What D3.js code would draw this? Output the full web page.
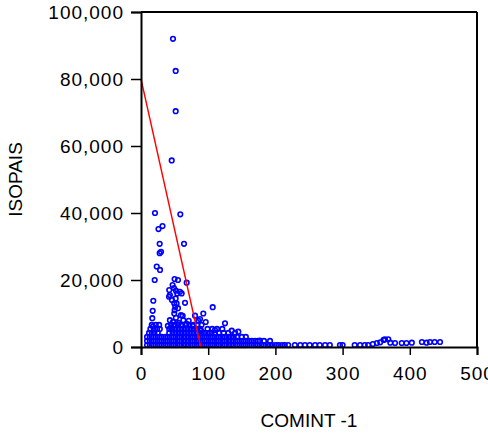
<!DOCTYPE html>
<html>
<head>
<meta charset="utf-8">
<script src="https://cdn.jsdelivr.net/npm/d3@7"></script>
<style>
  body { margin: 0; background: #fff; }
  text { font-family: "Liberation Sans", Arial, sans-serif; fill: #000; }
</style>
</head>
<body>
<div id="chart"></div>
<script>
// axis setup
const xTicks = [0, 100, 200, 300, 400, 500];
const yTicks = [0, 20000, 40000, 60000, 80000, 100000];
const xTitle = "COMINT -1";
const yTitle = "ISOPAIS";

// regression line (start / end)
const fitX = [0, 89];
const fitY = [80000, 0];

// isolated high values
const peakPoints = [
  [47.6, 92000], [51.6, 82400], [51.6, 70400], [45.7, 55700],
  [20.8, 40000], [58.5, 39600], [26, 35200], [32, 36100],
  [27.8, 30800], [64, 30800], [29.8, 28400], [27.8, 28000],
  [23.4, 24000], [28.3, 23000], [20.4, 20000]
];

// the column of points between x 40 and 70
const towerPoints = [
  [50, 20300], [55, 20000], [68, 19200], [47, 18500], [49, 17600],
  [52, 16800], [54, 16000], [58, 16500], [60.5, 16000], [42, 17000],
  [43, 15500], [41.7, 15000], [51.6, 14500], [49.5, 13000], [53, 13000],
  [51, 12000], [50, 11000], [49.5, 10000], [65.5, 13200], [59.5, 9500],
  [63, 8000], [62, 9300], [55, 11600], [46, 14000], [43, 8000],
  [47.6, 7500], [52, 8700], [56.5, 7200], [40, 6300], [44.6, 5700],
  [71, 7800], [68, 6900], [77, 6300],
  [18.3, 13800], [17.4, 10800], [16.8, 8600], [17.9, 6100]
];

// scattered points right of the column
const sidePoints = [
  [92.7, 10000], [106.7, 11900], [85.3, 7850], [96.3, 7460], [80.4, 9340],
  [87.8, 8360], [125, 7070], [110, 5070], [135, 4870], [144.8, 4570],
  [89.3, 4870], [177, 1880]
];

// dense band along the bottom, one row per level
const bandRows = [
  { y: 600, xs: [9, 13, 18, 22, 27, 31, 36, 40, 45, 49, 54, 58, 63, 67, 71, 76, 80, 85, 89, 94,
                 98, 103, 107, 112, 116, 121, 125, 130, 134, 138, 143, 147, 152, 156, 161, 165,
                 170, 174, 179, 183, 188, 192, 196, 201, 205, 210, 214, 219] },
  { y: 1800, xs: [9, 13, 18, 22, 27, 31, 36, 40, 45, 49, 54, 58, 63, 67, 71, 76, 80, 85, 89, 94,
                  98, 103, 107, 112, 116, 121, 125, 130, 134, 138, 143, 147, 152, 156, 161, 165,
                  170, 174, 183, 192] },
  { y: 3000, xs: [9, 13, 18, 22, 27, 31, 36, 40, 45, 49, 54, 58, 63, 67, 71, 76, 80, 85, 89, 94,
                  98, 103, 107, 112, 116, 121, 125, 130, 134, 138, 143, 150, 156] },
  { y: 4200, xs: [12, 16, 20, 25, 42, 47, 51, 56, 60, 65, 69, 74, 78, 83, 87, 92, 96, 101, 105,
                  110, 116, 123, 130, 140] },
  { y: 5400, xs: [14, 19, 24, 28, 42, 47, 51, 56, 60, 65, 69, 74, 78, 83, 88, 99, 106, 113, 121] },
  { y: 6600, xs: [16, 22, 27, 45, 50, 55, 60, 66, 72, 78, 84, 90] }
];

// sparse tail of low values
const tailPoints = [
  [229, 600], [237, 600], [244, 600], [251, 600], [259, 600], [266, 600], [274, 600],
  [281, 600], [296, 600], [300, 600], [318, 600], [326, 600], [333, 600], [338, 600],
  [345, 900], [351, 1200], [356, 1400], [361, 2100], [363, 2300], [368, 2300],
  [371, 1300], [378, 1200], [388, 1200], [395, 1200], [403, 1300],
  [418, 1500], [425, 1300], [430, 1500], [437, 1500], [445, 1500]
];

const W = 488, H = 433;
const margin = { top: 12, right: 11, bottom: 86, left: 141 };
const width = W - margin.left - margin.right;
const height = H - margin.top - margin.bottom;

const svg = d3.select("#chart").append("svg")
  .attr("width", W)
  .attr("height", H);

const g = svg.append("g")
  .attr("transform", "translate(" + margin.left + "," + margin.top + ")");

const x = d3.scaleLinear().domain([0, 500]).range([0, width]);
const y = d3.scaleLinear().domain([0, 100000]).range([height, 0]);

// collect all points
let allPoints = peakPoints.concat(towerPoints, sidePoints, tailPoints);
bandRows.forEach(r => r.xs.forEach(v => allPoints.push([v, r.y])));

g.selectAll(".pt")
  .data(allPoints)
  .enter()
  .append("circle")
  .attr("class", "pt")
  .attr("cx", d => x(d[0]))
  .attr("cy", d => y(d[1]))
  .attr("r", 2.3)
  .attr("fill", "none")
  .attr("stroke", "#0000ff")
  .attr("stroke-width", 1.6);

// fit line
g.append("line")
  .attr("x1", x(fitX[0])).attr("y1", y(fitY[0]))
  .attr("x2", x(fitX[1])).attr("y2", y(fitY[1]))
  .attr("stroke", "#ff0000")
  .attr("stroke-width", 1.4);

// frame on top and right
g.append("line").attr("x1", 0).attr("x2", width).attr("y1", 0).attr("y2", 0)
  .attr("stroke", "#000").attr("stroke-width", 2);
g.append("line").attr("x1", width).attr("x2", width).attr("y1", 0).attr("y2", height)
  .attr("stroke", "#000").attr("stroke-width", 2);

// axes
const xAxis = g.append("g")
  .attr("transform", "translate(0," + height + ")")
  .call(d3.axisBottom(x).tickValues(xTicks).tickSize(8).tickPadding(12).tickFormat(d3.format("d")));

const yAxis = g.append("g")
  .call(d3.axisLeft(y).tickValues(yTicks).tickSize(10).tickPadding(7).tickFormat(d3.format(",")));

[xAxis, yAxis].forEach(a => {
  a.select(".domain").attr("stroke", "#000").attr("stroke-width", 2);
  a.selectAll(".tick line").attr("stroke", "#000").attr("stroke-width", 1.5);
  a.selectAll(".tick text")
    .style("font-size", "19px")
    .style("letter-spacing", "1px")
    .style("font-family", "'Liberation Sans', Arial, sans-serif")
    .attr("fill", "#000");
});

// axis titles
svg.append("text")
  .attr("x", margin.left + width / 2)
  .attr("y", 427)
  .attr("text-anchor", "middle")
  .style("font-size", "19px")
  .text(xTitle);

svg.append("text")
  .attr("transform", "rotate(-90)")
  .attr("x", -(margin.top + height / 2))
  .attr("y", 22)
  .attr("text-anchor", "middle")
  .style("font-size", "19px")
  .text(yTitle);
</script>
</body>
</html>
